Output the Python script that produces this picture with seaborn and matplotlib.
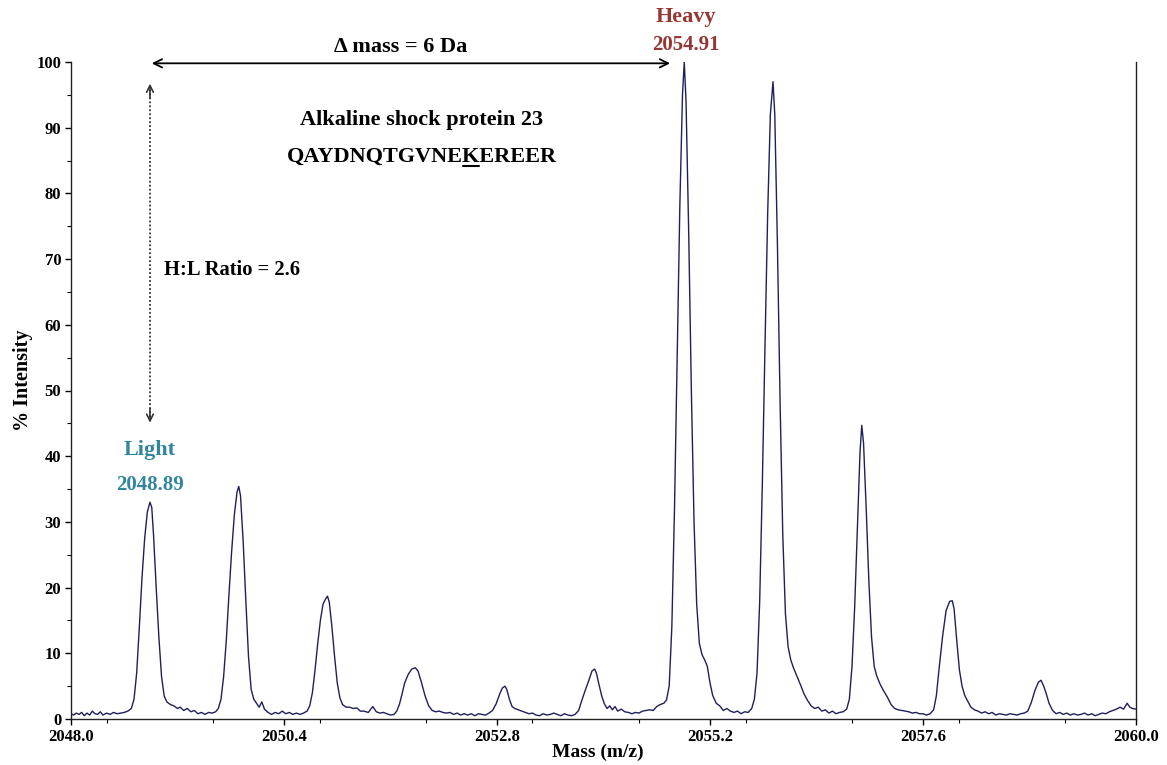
import numpy as np
import pandas as pd
import seaborn as sns
import matplotlib
matplotlib.use("Agg")
import matplotlib.pyplot as plt
from matplotlib.ticker import MultipleLocator

# spectrum trace (m/z, % intensity)
mz = [
    2048.00, 2048.03, 2048.06, 2048.09, 2048.12, 2048.15, 2048.18, 2048.21, 2048.24, 2048.27,
    2048.30, 2048.33, 2048.36, 2048.40, 2048.44, 2048.48, 2048.52, 2048.56, 2048.60, 2048.64, 2048.68,
    # light 2048.89
    2048.71, 2048.74, 2048.77, 2048.80, 2048.83, 2048.86, 2048.89, 2048.91, 2048.93, 2048.96,
    2048.99, 2049.02, 2049.05, 2049.08, 2049.12, 2049.16, 2049.20, 2049.23, 2049.27, 2049.31,
    2049.35, 2049.39, 2049.43, 2049.47, 2049.51, 2049.55, 2049.59, 2049.63, 2049.66, 2049.69,
    # 2049.89
    2049.72, 2049.75, 2049.78, 2049.81, 2049.84, 2049.87, 2049.89, 2049.91, 2049.94, 2049.97,
    2050.00, 2050.03, 2050.06, 2050.09, 2050.12, 2050.15, 2050.18, 2050.22, 2050.26, 2050.30,
    2050.34, 2050.38, 2050.42, 2050.46, 2050.50, 2050.54, 2050.58, 2050.62, 2050.66, 2050.69,
    # 2050.89
    2050.72, 2050.75, 2050.78, 2050.81, 2050.84, 2050.87, 2050.89, 2050.91, 2050.94, 2050.97,
    2051.00, 2051.03, 2051.06, 2051.10, 2051.14, 2051.18, 2051.22, 2051.26, 2051.30, 2051.35,
    2051.40, 2051.44, 2051.48, 2051.52, 2051.56, 2051.60, 2051.64, 2051.67,
    # 2051.89
    2051.70, 2051.73, 2051.76, 2051.80, 2051.84, 2051.88, 2051.91, 2051.95, 2051.99, 2052.03,
    2052.07, 2052.11, 2052.15, 2052.19, 2052.23, 2052.27, 2052.31, 2052.35, 2052.39, 2052.43,
    2052.47, 2052.51, 2052.55, 2052.59, 2052.63, 2052.67, 2052.71,
    # 2052.89
    2052.75, 2052.79, 2052.83, 2052.86, 2052.89, 2052.91, 2052.94, 2052.97, 2053.00, 2053.04,
    2053.08, 2053.12, 2053.16, 2053.20, 2053.24, 2053.28, 2053.32, 2053.36, 2053.40, 2053.44,
    2053.48, 2053.52, 2053.56, 2053.60, 2053.64, 2053.68, 2053.72,
    # 2053.90
    2053.75, 2053.79, 2053.83, 2053.87, 2053.90, 2053.92, 2053.95, 2053.98, 2054.01, 2054.04,
    2054.07, 2054.10, 2054.13, 2054.16, 2054.20, 2054.24, 2054.28, 2054.32, 2054.36, 2054.40,
    2054.44, 2054.48, 2054.52, 2054.56, 2054.60, 2054.64, 2054.68, 2054.71,
    # heavy 2054.91
    2054.74, 2054.77, 2054.80, 2054.83, 2054.86, 2054.89, 2054.91, 2054.93, 2054.96, 2054.99,
    2055.02, 2055.05, 2055.08, 2055.11, 2055.14, 2055.17, 2055.20, 2055.23, 2055.27, 2055.31,
    2055.35, 2055.39, 2055.43, 2055.47, 2055.51, 2055.55, 2055.59, 2055.63, 2055.67, 2055.70,
    # 2055.91
    2055.73, 2055.76, 2055.79, 2055.82, 2055.85, 2055.88, 2055.91, 2055.93, 2055.96, 2055.99,
    2056.02, 2056.05, 2056.08, 2056.11, 2056.14, 2056.18, 2056.22, 2056.26, 2056.30, 2056.34,
    2056.38, 2056.42, 2056.46, 2056.50, 2056.54, 2056.58, 2056.62, 2056.66, 2056.70, 2056.74, 2056.77,
    # 2056.91
    2056.80, 2056.83, 2056.86, 2056.89, 2056.91, 2056.93, 2056.96, 2056.99, 2057.02, 2057.05,
    2057.08, 2057.12, 2057.16, 2057.20, 2057.24, 2057.28, 2057.32, 2057.36, 2057.40, 2057.44,
    2057.48, 2057.52, 2057.56, 2057.60, 2057.64, 2057.68, 2057.72,
    # 2057.93
    2057.75, 2057.78, 2057.82, 2057.86, 2057.90, 2057.93, 2057.95, 2057.98, 2058.01, 2058.04,
    2058.07, 2058.10, 2058.14, 2058.18, 2058.22, 2058.26, 2058.30, 2058.34, 2058.38, 2058.42,
    2058.46, 2058.50, 2058.54, 2058.58, 2058.62, 2058.66, 2058.70, 2058.74, 2058.78,
    # 2058.93
    2058.82, 2058.86, 2058.90, 2058.93, 2058.96, 2058.99, 2059.02, 2059.06, 2059.10, 2059.14,
    2059.18, 2059.22, 2059.26, 2059.30, 2059.34, 2059.38, 2059.42, 2059.46, 2059.50, 2059.54,
    2059.58, 2059.62, 2059.66, 2059.70, 2059.74, 2059.78, 2059.82, 2059.86, 2059.90, 2059.93,
    2059.96, 2060.00,
]
intensity = [
    0.8, 0.6, 0.9, 0.7, 1.0, 0.5, 0.9, 0.6, 1.2, 0.8,
    0.7, 1.1, 0.6, 0.9, 0.7, 1.0, 0.8, 0.9, 1.0, 1.2, 1.6,
    3.0, 7.0, 14.0, 21.5, 27.5, 31.5, 33.0, 32.2, 28.0, 20.0,
    12.5, 6.5, 3.5, 2.6, 2.2, 2.0, 1.6, 1.8, 1.3, 1.6,
    1.1, 1.3, 0.8, 1.0, 0.7, 1.0, 0.9, 1.1, 1.6, 3.0,
    6.5, 12.0, 19.0, 25.5, 31.0, 34.5, 35.4, 34.0, 27.0, 18.0,
    9.5, 4.5, 3.0, 2.4, 1.8, 2.6, 1.5, 1.0, 0.7, 1.0,
    0.8, 1.2, 0.8, 1.0, 0.7, 0.9, 0.7, 0.9, 1.2, 2.0,
    4.0, 7.5, 11.5, 15.0, 17.5, 18.3, 18.7, 17.8, 14.0, 9.5,
    5.5, 3.2, 2.2, 1.8, 1.8, 1.6, 1.7, 1.2, 1.2, 1.0,
    1.9, 1.1, 0.9, 1.0, 0.8, 0.6, 0.7, 1.2,
    2.2, 3.8, 5.5, 6.8, 7.6, 7.8, 7.3, 5.5, 3.5, 2.0,
    1.3, 1.1, 1.2, 1.0, 0.9, 1.0, 0.7, 0.9, 0.6, 0.8,
    0.6, 0.8, 0.5, 0.8, 0.7, 0.6, 0.9,
    1.3, 2.3, 3.8, 4.7, 5.0, 4.5, 3.0, 1.9, 1.6, 1.4,
    1.2, 1.0, 0.8, 0.9, 0.6, 0.5, 0.8, 0.6, 0.7, 0.9,
    0.7, 0.5, 0.8, 0.6, 0.5, 0.7, 1.3,
    2.6, 4.2, 5.7, 7.3, 7.6, 7.0, 5.2, 3.5, 2.3, 1.6,
    2.0, 1.4, 1.9, 1.2, 1.5, 1.1, 1.0, 0.8, 1.0, 0.9,
    1.2, 1.3, 1.4, 1.3, 1.9, 2.2, 2.4, 2.9,
    5.0, 14.0, 32.0, 55.0, 78.0, 95.0, 100.0, 94.0, 74.0, 50.0,
    30.0, 17.5, 11.5, 9.8, 9.0, 8.0, 5.5, 3.6, 2.4, 2.0,
    1.3, 1.6, 1.2, 1.0, 1.2, 0.8, 1.1, 1.0, 1.6, 3.0,
    7.0, 18.0, 36.0, 57.0, 77.0, 92.0, 97.0, 92.0, 72.0, 48.0,
    28.0, 16.0, 11.0, 9.0, 7.8, 6.5, 5.2, 3.8, 2.8, 2.0,
    1.6, 1.8, 1.2, 1.4, 0.9, 1.2, 0.8, 1.0, 1.1, 1.5, 3.0,
    8.0, 17.0, 29.0, 40.5, 44.7, 42.0, 32.0, 21.0, 12.5, 8.0,
    6.5, 5.2, 4.2, 3.3, 2.2, 1.6, 1.4, 1.3, 1.2, 1.1,
    0.9, 1.0, 0.8, 0.8, 0.6, 0.8, 1.4,
    3.5, 7.5, 12.5, 16.5, 17.9, 18.0, 16.8, 12.0, 7.5, 5.0,
    3.6, 2.8, 1.8, 1.4, 1.2, 0.9, 1.1, 0.8, 1.0, 0.6,
    0.8, 0.7, 0.6, 0.8, 0.7, 0.6, 0.8, 0.9, 1.2,
    2.5, 4.3, 5.6, 5.9, 5.0, 3.8, 2.4, 1.3, 0.8, 1.0,
    0.7, 0.9, 0.6, 0.8, 0.6, 0.7, 0.9, 0.6, 0.8, 0.5,
    0.7, 0.9, 0.8, 1.1, 1.3, 1.5, 1.8, 1.5, 2.4, 1.8,
    1.6, 1.5,
]

x_ticks = [2048.0, 2050.4, 2052.8, 2055.2, 2057.6, 2060.0]
x_ticklabels = ["2048.0", "2050.4", "2052.8", "2055.2", "2057.6", "2060.0"]
y_ticks = [0, 10, 20, 30, 40, 50, 60, 70, 80, 90, 100]

light_mz, light_int = 2048.89, 33.0
heavy_mz, heavy_int = 2054.91, 100.0
protein = "Alkaline shock protein 23"
peptide = "QAYDNQTGVNEKEREER"
label_pos = 11  # the underlined K
ratio_text = "H:L Ratio = 2.6"
delta_text = "\u0394 mass = 6 Da"

df = pd.DataFrame({"mz": mz, "intensity": intensity})

sns.set_style("ticks")
plt.rcParams["font.family"] = ["Liberation Serif", "DejaVu Serif"]
plt.rcParams["font.weight"] = "bold"
plt.rcParams["text.color"] = "black"
plt.rcParams["axes.labelcolor"] = "black"
plt.rcParams["xtick.color"] = "black"
plt.rcParams["ytick.color"] = "black"

fig = plt.figure(figsize=(11.67, 7.65), dpi=100)
ax = fig.add_axes([71 / 1167, 1 - 719 / 765, 1065 / 1167, 657 / 765])

sns.lineplot(data=df, x="mz", y="intensity", estimator=None, color="#1f1f5c",
             linewidth=1.0, ax=ax)

ax.set_xlim(2048.0, 2060.0)
ax.set_ylim(0, 100)
ax.set_xticks(x_ticks)
ax.set_xticklabels(x_ticklabels)
ax.set_yticks(y_ticks)
ax.xaxis.set_minor_locator(MultipleLocator(1.2))
ax.yaxis.set_minor_locator(MultipleLocator(5))
ax.tick_params(axis="both", which="major", direction="out", length=4, width=1,
               labelsize=12, pad=3)
ax.tick_params(axis="both", which="minor", direction="out", length=3, width=0.8)
for lab in ax.get_xticklabels() + ax.get_yticklabels():
    lab.set_fontweight("bold")

ax.spines["top"].set_visible(False)
ax.spines["right"].set_visible(True)
for s in ["left", "bottom", "right"]:
    ax.spines[s].set_linewidth(1.0)
    ax.spines[s].set_color("#222222")

ax.set_xlabel("Mass (m/z)", fontsize=14, fontweight="bold")
ax.set_ylabel("% Intensity", fontsize=14.5, fontweight="bold")
ax.xaxis.set_label_coords(0.495, -0.038)
ax.yaxis.set_label_coords(-0.036, 0.516)

# peak labels
heavy_col = "#953735"
light_col = "#31859c"
ax.text(heavy_mz + 0.02, 106.8, "Heavy", ha="center", va="center", fontsize=16,
        fontweight="bold", color=heavy_col, clip_on=False)
ax.text(heavy_mz + 0.02, 102.6, f"{heavy_mz:.2f}", ha="center", va="center", fontsize=15,
        fontweight="bold", color=heavy_col, clip_on=False)
ax.text(light_mz, 40.9, "Light", ha="center", va="center", fontsize=16,
        fontweight="bold", color=light_col)
ax.text(light_mz, 35.6, f"{light_mz:.2f}", ha="center", va="center", fontsize=15,
        fontweight="bold", color=light_col)

# delta mass arrow
ax.annotate("", xy=(light_mz + 0.02, 99.8), xytext=(2054.75, 99.8),
            arrowprops=dict(arrowstyle="<->", color="black", lw=1.3,
                            shrinkA=0, shrinkB=0, mutation_scale=15),
            annotation_clip=False)
ax.text(2051.71, 102.3, delta_text, ha="center", va="center", fontsize=16,
        fontweight="bold", clip_on=False)

# ratio dotted arrow
ax.plot([light_mz, light_mz], [46.0, 95.8], color="#333333", lw=1.3,
        linestyle=(0, (1, 1.2)))
ax.annotate("", xy=(light_mz, 96.7), xytext=(light_mz, 94.5),
            arrowprops=dict(arrowstyle="->", color="#333333", lw=1.2,
                            shrinkA=0, shrinkB=0, mutation_scale=12))
ax.annotate("", xy=(light_mz, 45.1), xytext=(light_mz, 47.3),
            arrowprops=dict(arrowstyle="->", color="#333333", lw=1.2,
                            shrinkA=0, shrinkB=0, mutation_scale=12))
ax.text(2049.05, 68.3, ratio_text, ha="left", va="center", fontsize=14.8,
        fontweight="bold")

# protein and peptide
ax.text(2051.95, 91.2, protein, ha="center", va="center", fontsize=16,
        fontweight="bold")
seq = ax.text(2051.95, 85.5, peptide, ha="center", va="center", fontsize=16,
              fontweight="bold")

# underline the labelled K
fig.canvas.draw()
r = fig.canvas.get_renderer()
bb = seq.get_window_extent(r)
tmp = ax.text(0, 0, peptide[:label_pos], fontsize=16, fontweight="bold")
w0 = tmp.get_window_extent(r).width
tmp.set_text(peptide[:label_pos + 1])
w1 = tmp.get_window_extent(r).width
tmp.remove()
inv = ax.transData.inverted()
(xa, ya), (xb, _) = inv.transform([(bb.x0 + w0 + 1, bb.y0 + 1.5), (bb.x0 + w1 - 1, bb.y0 + 1.5)])
ax.plot([xa, xb], [ya, ya], color="black", lw=1.5)

fig.savefig("out.png", dpi=100)
